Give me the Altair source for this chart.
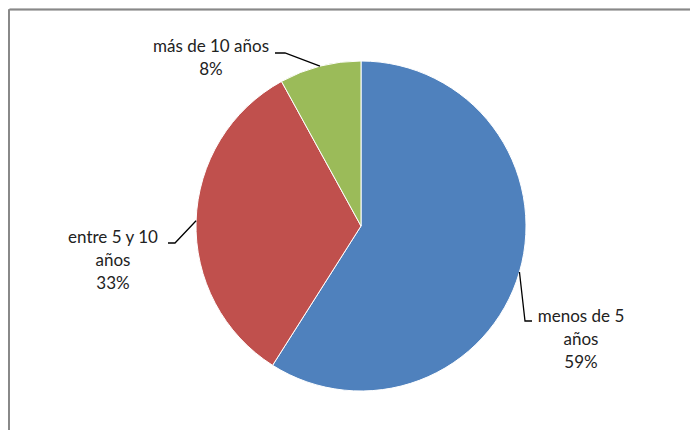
import math
import altair as alt
import pandas as pd

# ---- data ----
categories = ["menos de 5 años", "entre 5 y 10 años", "más de 10 años"]
values = [59, 33, 8]
label_texts = ["menos de 5\naños", "entre 5 y 10\naños", "más de 10 años"]
colors = ["#4F81BD", "#C0504D", "#9BBB59"]

# ---- layout (plot-area pixels, origin at the pie centre, y downward) ----
W, H = 682, 422
CX, CY = 353, 218
R = 165
# label anchor (first-line baseline, centre) and leader elbow/end relative to pie centre
label_pos = [(220, 96), (-248, 17), (-150, -174)]
leader_pts = [
    [(164, 95), (171, 95)],     # blue: edge -> elbow -> end
    [(-186, 17), (-193, 17)],   # red
    [(-76, -173), (-86, -173)], # green
]

total = sum(values)
pie = pd.DataFrame({"cat": categories, "value": values, "idx": list(range(len(values)))})

# text table
txt_rows = []
for i, (c, v) in enumerate(zip(categories, values)):
    pct = round(v / total * 100)
    txt_rows.append({"cat": c, "x": label_pos[i][0], "y": label_pos[i][1],
                     "label": f"{label_texts[i]}\n{pct}%"})
txt = pd.DataFrame(txt_rows)

# leader lines from slice mid-angle on the pie edge
line_rows = []
cum = 0
for i, v in enumerate(values):
    mid = (cum + v / 2) / total * 2 * math.pi
    cum += v
    ex, ey = R * math.sin(mid), -R * math.cos(mid)
    pts = [(ex, ey)] + leader_pts[i]
    for k, (px, py) in enumerate(pts):
        line_rows.append({"cat": categories[i], "k": k, "x": px, "y": py})
lines = pd.DataFrame(line_rows)

xscale = alt.Scale(domain=[-CX, W - CX], range=[0, W])
yscale = alt.Scale(domain=[-CY, H - CY], range=[0, H])

arcs = alt.Chart(pie).mark_arc(radius=R, stroke="white", strokeWidth=1).encode(
    theta=alt.Theta("value:Q", stack=True),
    order=alt.Order("idx:Q"),
    color=alt.Color("cat:N", scale=alt.Scale(domain=categories, range=colors), legend=None),
    x=alt.value(CX),
    y=alt.value(CY),
)

leaders = alt.Chart(lines).mark_line(color="black", strokeWidth=1.3).encode(
    x=alt.X("x:Q", scale=xscale, axis=None),
    y=alt.Y("y:Q", scale=yscale, axis=None),
    detail="cat:N",
    order="k:Q",
)

labels = alt.Chart(txt).mark_text(
    font="Lato", fontSize=17, color="#222222", align="center",
    baseline="alphabetic", lineBreak="\n", lineHeight=23,
).encode(
    x=alt.X("x:Q", scale=xscale, axis=None),
    y=alt.Y("y:Q", scale=yscale, axis=None),
    text="label:N",
)

frame_top = alt.Chart(pie).mark_rule(color="#888888", strokeWidth=1.6).encode(
    x=alt.value(1.5), x2=alt.value(W), y=alt.value(1.5)
)
frame_left = alt.Chart(pie).mark_rule(color="#888888", strokeWidth=1.6).encode(
    x=alt.value(1.0), y=alt.value(1.5), y2=alt.value(H)
)

chart = alt.layer(frame_top, frame_left, arcs, leaders, labels).properties(
    width=W, height=H, autosize="none", padding=0, background="white"
).configure_view(strokeWidth=0)

chart.save("out.html", embed_options={"renderer": "svg", "actions": False})
